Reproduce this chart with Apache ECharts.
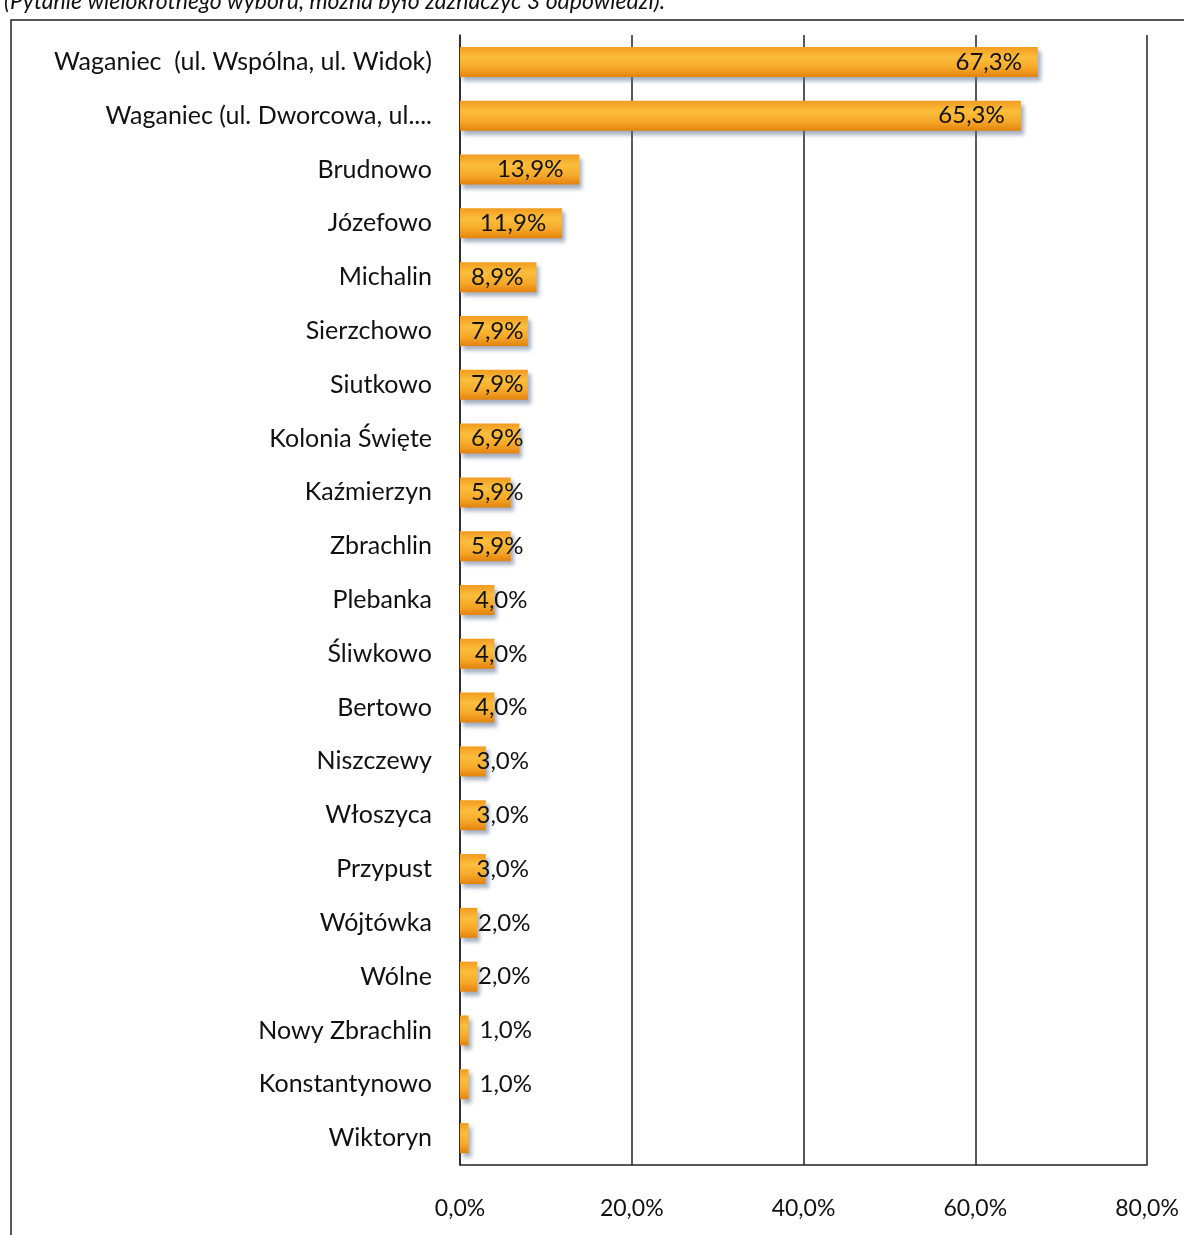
<!DOCTYPE html>
<html><head><meta charset="utf-8">
<script src="https://cdn.jsdelivr.net/npm/echarts@6/dist/echarts.min.js"></script>
<style>html,body{margin:0;padding:0;background:#fff}#c{width:1184px;height:1235px}</style>
</head><body><div id="c"></div>
<script>
const categories = ['Waganiec  (ul. Wspólna, ul. Widok)','Waganiec (ul. Dworcowa, ul....','Brudnowo','Józefowo','Michalin','Sierzchowo','Siutkowo','Kolonia Święte','Kaźmierzyn','Zbrachlin','Plebanka','Śliwkowo','Bertowo','Niszczewy','Włoszyca','Przypust','Wójtówka','Wólne','Nowy Zbrachlin','Konstantynowo','Wiktoryn'];
const values = [67.3,65.3,13.9,11.9,8.9,7.9,7.9,6.9,5.9,5.9,4.0,4.0,4.0,3.0,3.0,3.0,2.0,2.0,1.0,1.0,1.0];
const showLabel = [true,true,true,true,true,true,true,true,true,true,true,true,true,true,true,true,true,true,true,true,false];
const xTicks = [0,20,40,60,80];
const caption = '(Pytanie wielokrotnego wyboru, można było zaznaczyć 3 odpowiedzi).';
const FONT = 'Lato';
const fmt = v => v.toFixed(1).replace('.', ',') + '%';

const barColor = {type:'linear',x:0,y:0,x2:0,y2:1,colorStops:[
  {offset:0,color:'#F29B1F'},{offset:0.35,color:'#FBBE3C'},{offset:0.7,color:'#F6A828'},{offset:1,color:'#E3820F'}]};

const data = values.map((v,i)=>({
  value:v,
  label:{
    show: showLabel[i],
    position: v >= 10 ? 'insideRight' : 'insideLeft',
    distance: v >= 10 ? 16 : (v >= 5 ? 11 : 15 + (4 - Math.min(v,4)) * 1.5),
    formatter: () => fmt(v)
  }
}));

const chart = echarts.init(document.getElementById('c'));
chart.setOption({
  animation:false,
  backgroundColor:'#fff',
  graphic:[
    {type:'text',left:4,top:-10,style:{text:caption,font:'italic 23px '+FONT,fill:'#111'}},
    {type:'rect',shape:{x:11,y:20,width:1200,height:1240},style:{fill:'none',stroke:'#222',lineWidth:1.5},z:-1}
  ],
  grid:{left:460,right:37,top:35,bottom:70,containLabel:false},
  xAxis:{type:'value',min:0,max:80,interval:20,
    axisLine:{show:true,lineStyle:{color:'#222',width:1.5}},
    axisTick:{show:false},
    splitLine:{show:true,lineStyle:{color:'#222',width:1.5}},
    axisLabel:{fontFamily:FONT,fontSize:23,color:'#111',margin:32,formatter:v=>fmt(v)}
  },
  yAxis:{type:'category',data:categories,inverse:true,
    axisLine:{show:true,lineStyle:{color:'#222',width:1.5}},
    axisTick:{show:false},
    axisLabel:{fontFamily:FONT,fontSize:25,color:'#111',margin:28}
  },
  series:[{type:'bar',data:data,barWidth:30,
    itemStyle:{color:barColor,shadowColor:'rgba(90,110,140,0.55)',shadowBlur:4,shadowOffsetX:3,shadowOffsetY:4},
    label:{fontFamily:FONT,fontSize:24,color:'#111'}
  }]
});
</script></body></html>
